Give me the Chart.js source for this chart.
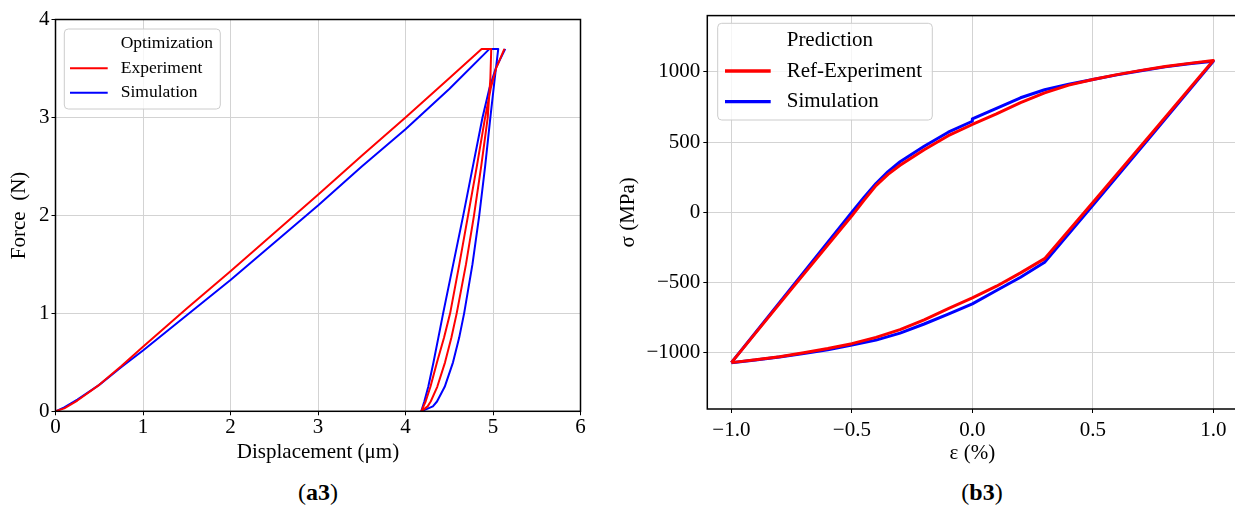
<!DOCTYPE html>
<html>
<head>
<meta charset="utf-8">
<script src="https://cdn.jsdelivr.net/npm/chart.js@4.4.0/dist/chart.umd.min.js"></script>
<style>
  html, body { margin: 0; padding: 0; background: #fff; overflow: hidden; width: 1235px; height: 515px; }
  canvas { position: absolute; top: 0; }
  #forceChart { left: 0; }
  #stressChart { left: 600px; }
  .caption { position: absolute; top: 478px; width: 120px; text-align: center;
             font: 24px/28px 'Liberation Serif', 'Times New Roman', serif; color: #000; }
</style>
</head>
<body>
<canvas id="forceChart" width="620" height="470"></canvas>
<canvas id="stressChart" width="660" height="470"></canvas>
<div class="caption" style="left:258px">(<b>a3</b>)</div>
<div class="caption" style="left:922px">(<b>b3</b>)</div>

<script>
// ---- Panel a3: indentation force vs displacement (load, hold, unload, reload) ----
const dispExperiment = [0, 0.1, 0.25, 0.5, 0.75, 1, 1.5, 2, 2.5, 3, 3.5, 4, 4.5, 4.87, 4.98,
  4.97, 4.94, 4.865, 4.783, 4.691, 4.585, 4.524, 4.452, 4.363, 4.288, 4.253, 4.18,
  4.23, 4.285, 4.36, 4.44, 4.51, 4.615, 4.715, 4.815, 4.91, 4.975, 5.035, 5.13];
const forceExperiment = [0, 0.03, 0.11, 0.27, 0.46, 0.66, 1.05, 1.43, 1.82, 2.21, 2.61, 3.0, 3.4, 3.7, 3.7,
  3.4, 3.0, 2.5, 2.0, 1.5, 1.0, 0.75, 0.5, 0.25, 0.1, 0.05, 0,
  0.1, 0.25, 0.5, 0.75, 1.0, 1.5, 2.0, 2.5, 3.0, 3.3, 3.5, 3.7];
const dispSimulation = [0, 0.1, 0.25, 0.5, 0.75, 1, 1.5, 2, 2.5, 3, 3.5, 4, 4.5, 4.96, 5.06,
  5.02, 4.97, 4.91, 4.843, 4.765, 4.67, 4.613, 4.543, 4.448, 4.36, 4.313, 4.18,
  4.215, 4.26, 4.32, 4.375, 4.43, 4.545, 4.66, 4.77, 4.88, 4.96, 5.03, 5.14];
const forceSimulation = [0, 0.04, 0.12, 0.27, 0.45, 0.62, 0.98, 1.34, 1.72, 2.1, 2.5, 2.88, 3.29, 3.7, 3.7,
  3.4, 3.0, 2.5, 2.0, 1.5, 1.0, 0.75, 0.5, 0.25, 0.1, 0.05, 0,
  0.1, 0.25, 0.5, 0.75, 1.0, 1.5, 2.0, 2.5, 3.0, 3.3, 3.5, 3.7];
const dispTicks = [0, 1, 2, 3, 4, 5, 6];
const forceTicks = [0, 1, 2, 3, 4];

// ---- Panel b3: cyclic stress-strain loop ----
const strainRef = [-1.0, -0.75, -0.5, -0.45, -0.4, -0.35, -0.3, -0.2, -0.1, 0.0, 0.1, 0.2, 0.3, 0.4, 0.5,
  0.6, 0.7, 0.8, 0.9, 1.0,
  0.75, 0.5, 0.3, 0.2, 0.1, 0.0, -0.1, -0.2, -0.3, -0.4, -0.5, -0.6, -0.7, -0.8, -0.9, -1.0];
const stressRef = [-1070, -545, -25, 85, 190, 270, 335, 445, 545, 625, 700, 780, 850, 905, 945,
  980, 1010, 1038, 1060, 1080,
  573, 70, -330, -431, -526, -609, -685, -765, -835, -890, -935, -970, -1000, -1028, -1050, -1070];
const strainSim = [-1.0, -0.75, -0.5, -0.45, -0.4, -0.35, -0.3, -0.2, -0.1, 0.0, 0.0, 0.1, 0.2, 0.3, 0.4, 0.5,
  0.6, 0.7, 0.8, 0.9, 1.0,
  0.75, 0.5, 0.3, 0.2, 0.1, 0.0, -0.1, -0.2, -0.3, -0.4, -0.5, -0.6, -0.7, -0.8, -0.9, -1.0];
const stressSim = [-1070, -535, 0, 105, 205, 290, 360, 470, 570, 648, 665, 740, 815, 872, 912, 945,
  978, 1008, 1035, 1057, 1075,
  560, 50, -355, -462, -557, -652, -725, -795, -860, -910, -945, -978, -1005, -1030, -1052, -1070];
const strainTicks = [-1.0, -0.5, 0.0, 0.5, 1.0];
const stressTicks = [-1000, -500, 0, 500, 1000];

const serif = "'Liberation Serif', 'Times New Roman', serif";
const toPoints = (xs, ys) => xs.map((x, i) => ({ x, y: ys[i] }));
const minusSign = s => s.replace('-', '\u2212');

// Draws the black axes frame and an in-plot legend whose first row is a heading.
const frameLegend = {
  id: 'frameLegend',
  afterDraw(chart, args, L) {
    const { ctx, chartArea: a } = chart;
    ctx.save();
    ctx.strokeStyle = '#000';
    ctx.lineWidth = 1.5;
    ctx.strokeRect(a.left, a.top, a.right - a.left, a.bottom - a.top);

    ctx.beginPath();
    ctx.roundRect(L.x, L.y, L.w, L.h, 4);
    ctx.fillStyle = 'rgba(255,255,255,0.8)';
    ctx.fill();
    ctx.strokeStyle = '#cccccc';
    ctx.lineWidth = 1;
    ctx.stroke();

    ctx.font = L.fontSize + 'px ' + serif;
    ctx.fillStyle = '#000';
    ctx.textBaseline = 'middle';
    ctx.textAlign = 'left';
    ctx.fillText(L.heading, L.textX, L.rowY[0]);
    chart.data.datasets.forEach((ds, i) => {
      const y = L.rowY[i + 1];
      ctx.strokeStyle = ds.borderColor;
      ctx.lineWidth = L.lineW;
      ctx.beginPath();
      ctx.moveTo(L.lineX0, y);
      ctx.lineTo(L.lineX1, y);
      ctx.stroke();
      ctx.fillStyle = '#000';
      ctx.fillText(ds.label, L.textX, y);
    });
    ctx.restore();
  }
};

function axis(o) {
  return {
    type: 'linear',
    min: o.min,
    max: o.max,
    afterBuildTicks: s => { s.ticks = o.ticks.map(v => ({ value: v })); },
    afterFit: s => { if (s.isHorizontal()) s.height = o.size; else s.width = o.size; },
    grid: { color: '#d3d3d3', lineWidth: 1, tickColor: '#000', tickLength: 4, drawTicks: true },
    border: { display: false },
    ticks: { font: { family: serif, size: 21 }, color: '#000', padding: o.pad,
             maxRotation: 0, autoSkip: false, callback: o.fmt },
    title: { display: true, text: o.title, font: { family: serif, size: 21 }, color: '#000',
             padding: o.titlePad }
  };
}

function lineSet(label, pts, color, width) {
  return { label, data: pts, borderColor: color, borderWidth: width, showLine: true,
           pointRadius: 0, tension: 0, fill: false, borderJoinStyle: 'round' };
}

new Chart(document.getElementById('forceChart'), {
  type: 'scatter',
  data: {
    datasets: [
      lineSet('Experiment', toPoints(dispExperiment, forceExperiment), '#ff0000', 2),
      lineSet('Simulation', toPoints(dispSimulation, forceSimulation), '#0000ff', 2)
    ]
  },
  options: {
    responsive: false, animation: false, events: [],
    layout: { padding: { left: 0, top: 19.5, right: 39.5, bottom: 0 } },
    scales: {
      x: axis({ min: 0, max: 6, ticks: dispTicks, size: 58.7, pad: 0,
                fmt: v => String(v), title: 'Displacement (\u03bcm)', titlePad: { top: 0, bottom: 5.4 } }),
      y: axis({ min: 0, max: 4, ticks: forceTicks, size: 55.5, pad: 2,
                fmt: v => String(v), title: 'Force  (N)', titlePad: { top: 6.4, bottom: 0 } })
    },
    plugins: {
      legend: { display: false }, tooltip: { enabled: false },
      frameLegend: { x: 64.3, y: 29, w: 156, h: 80, heading: 'Optimization', fontSize: 17.5,
                     textX: 120.7, rowY: [43.7, 68.3, 92.7], lineX0: 70, lineX1: 107.7, lineW: 2 }
    }
  },
  plugins: [frameLegend]
});

new Chart(document.getElementById('stressChart'), {
  type: 'scatter',
  data: {
    datasets: [
      lineSet('Ref-Experiment', toPoints(strainRef, stressRef), '#ff0000', 3),
      lineSet('Simulation', toPoints(strainSim, stressSim), '#0000ff', 3)
    ]
  },
  options: {
    responsive: false, animation: false, events: [],
    layout: { padding: { left: 0, top: 12.3, right: 22.6, bottom: 0 } },
    scales: {
      x: axis({ min: -1.1, max: 1.1, ticks: strainTicks, size: 61, pad: 5,
                fmt: v => minusSign(v.toFixed(1)), title: '\u03b5 (%)', titlePad: { top: 0, bottom: 4.4 } }),
      y: axis({ min: -1400, max: 1400, ticks: stressTicks, size: 107.3, pad: 3,
                fmt: v => minusSign(String(v)), title: '\u03c3 (MPa)', titlePad: { top: 15.9, bottom: 0 } })
    },
    plugins: {
      legend: { display: false }, tooltip: { enabled: false },
      frameLegend: { x: 117.7, y: 23.3, w: 214.6, h: 96.7, heading: 'Prediction', fontSize: 21,
                     textX: 186.7, rowY: [40.7, 71, 101.7], lineX0: 125, lineX1: 170.7, lineW: 3.3 }
    }
  },
  plugins: [frameLegend]
});
</script>
</body>
</html>
